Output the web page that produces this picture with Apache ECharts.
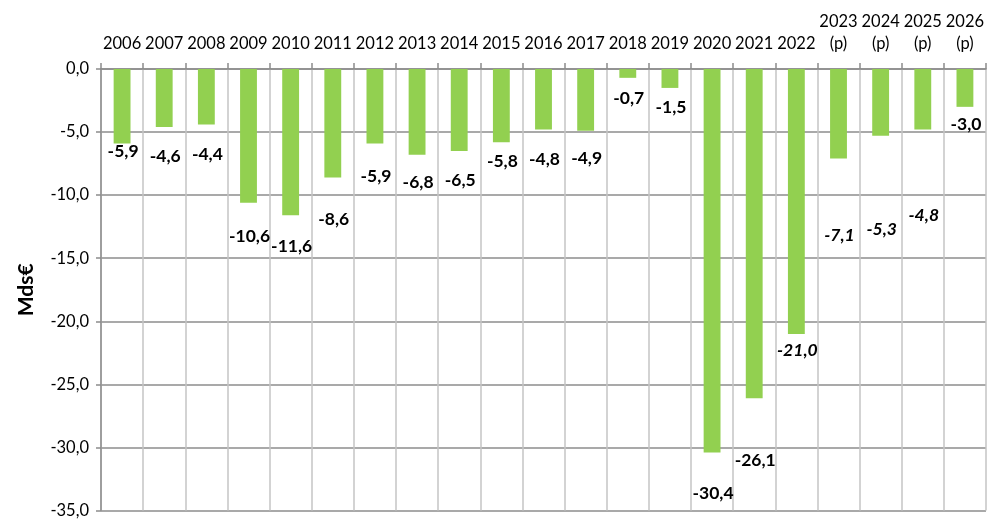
<!DOCTYPE html>
<html lang="fr" style="height: 100%">
<head>
  <meta charset="utf-8">
  <title>Solde Mds€</title>
</head>
<body style="height: 100%; margin: 0; background: #fff;">
  <div id="container" style="width: 987px; height: 519px;"></div>

  <script type="text/javascript" src="https://cdn.jsdelivr.net/npm/echarts@6/dist/echarts.min.js"></script>
  <script type="text/javascript">
    // années (les prévisions sont marquées (p))
    var years = ['2006', '2007', '2008', '2009', '2010', '2011', '2012', '2013', '2014', '2015', '2016',
      '2017', '2018', '2019', '2020', '2021', '2022', '2023\n(p)', '2024\n(p)', '2025\n(p)', '2026\n(p)'];
    // solde en milliards d'euros
    var values = [-5.9, -4.6, -4.4, -10.6, -11.6, -8.6, -5.9, -6.8, -6.5, -5.8, -4.8,
      -4.9, -0.7, -1.5, -30.4, -26.1, -21.0, -7.1, -5.3, -4.8, -3.0];
    // étiquettes en italique (valeurs provisoires / prévisions)
    var italicYears = ['2022', '2023\n(p)', '2024\n(p)', '2025\n(p)'];
    // décalage vertical des étiquettes sous la barre (px), placées à la main dans l'original
    var labelDrop = [9, 30, 31, 35, 32, 43, 34, 29, 30, 20, 31, 29, 22, 20, 42, 63, 17, 78, 95, 87, 19];

    var fontFamily = 'Lato, "Open Sans", sans-serif';

    function fmt(v) {
      return v.toFixed(1).replace('.', ',');
    }

    var chart = echarts.init(document.getElementById('container'), null, { renderer: 'canvas' });

    var barData = values.map(function (v, i) {
      return {
        value: v,
        label: {
          offset: [1, labelDrop[i] - 10],
          fontStyle: italicYears.indexOf(years[i]) >= 0 ? 'italic' : 'normal'
        }
      };
    });

    var option = {
      backgroundColor: '#fff',
      animation: false,
      grid: {
        left: 101,
        top: 69,
        width: 888,
        height: 442
      },
      xAxis: {
        type: 'category',
        position: 'top',
        data: years,
        axisLine: { show: true, lineStyle: { color: '#8c8c8c', width: 1.5 } },
        axisTick: { show: true, length: 6, lineStyle: { color: '#8c8c8c', width: 1.5 } },
        axisLabel: {
          color: '#000',
          fontFamily: fontFamily,
          fontSize: 16.5,
          margin: 14,
          lineHeight: 22,
          interval: 0
        },
        splitLine: { show: true, lineStyle: { color: '#c4c4c4', width: 1.5 } }
      },
      yAxis: {
        type: 'value',
        min: -35,
        max: 0,
        interval: 5,
        name: 'Mds€',
        nameLocation: 'middle',
        nameGap: 64,
        nameTextStyle: { color: '#000', fontFamily: fontFamily, fontSize: 21, fontWeight: 'bold' },
        axisLine: { show: true, lineStyle: { color: '#8c8c8c', width: 1.5 } },
        axisTick: { show: true, length: 5, lineStyle: { color: '#8c8c8c', width: 1.5 } },
        axisLabel: {
          color: '#000',
          fontFamily: fontFamily,
          fontSize: 16.5,
          margin: 12,
          formatter: fmt
        },
        splitLine: { show: true, lineStyle: { color: '#8c8c8c', width: 1.5 } }
      },
      series: [{
        type: 'bar',
        data: barData,
        barWidth: '40%',
        itemStyle: { color: '#92D050' },
        label: {
          show: true,
          position: 'bottom',
          distance: 0,
          color: '#000',
          fontFamily: fontFamily,
          fontSize: 17.5,
          fontWeight: 'bold',
          formatter: function (p) { return fmt(p.value); }
        }
      }]
    };

    chart.setOption(option);
    window.addEventListener('resize', chart.resize);
  </script>
</body>
</html>
